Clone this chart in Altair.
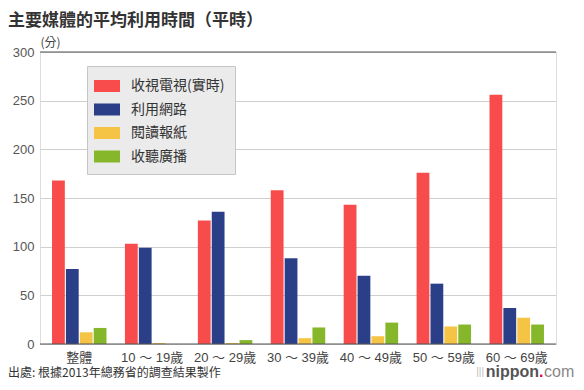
import altair as alt
import pandas as pd

groups = ["整體", "10 ～ 19歲", "20 ～ 29歲", "30 ～ 39歲", "40 ～ 49歲", "50 ～ 59歲", "60 ～ 69歲"]
series = ["收視電視(實時)", "利用網路", "閱讀報紙", "收聽廣播"]
colors = ["#f84b4b", "#2b3f88", "#f6c444", "#86b72b"]

tv = [168, 103, 127, 158, 143, 176, 256]
net = [77, 99, 136, 88, 70, 62, 37]
paper = [12, 1, 1, 6, 8, 18, 27]
radio = [16.5, 0, 4, 17, 22, 20, 20]

y_ticks = [0, 50, 100, 150, 200, 250, 300]

title_text = "主要媒體的平均利用時間（平時）"
source_text = "出處: 根據2013年總務省的調查結果製作"

FONT = "Liberation Sans, Noto Sans CJK TC, sans-serif"
CJK = "Noto Sans CJK TC, sans-serif"

rows = []
for vals, s in zip([tv, net, paper, radio], series):
    for g, v in zip(groups, vals):
        rows.append({"group": g, "series": s, "value": v})
df = pd.DataFrame(rows)

bars = alt.Chart(df).mark_bar().encode(
    x=alt.X("group:N", sort=groups,
            scale=alt.Scale(paddingInner=0.253, paddingOuter=0.165),
            axis=alt.Axis(title=None, labelAngle=0, labelFontSize=13, labelColor="#444",
                          labelFont=FONT, ticks=False, domain=False, labelPadding=7)),
    xOffset=alt.XOffset("series:N", sort=series,
                        scale=alt.Scale(paddingInner=0.08, paddingOuter=0)),
    y=alt.Y("value:Q", scale=alt.Scale(domain=[0, 300], nice=False),
            axis=alt.Axis(values=y_ticks, title="(分)", titleAngle=0, titleX=0, titleY=-3,
                          titleAlign="left", titleBaseline="bottom", titleFontSize=12,
                          titleFontWeight="normal", titleColor="#444", titleFont=CJK,
                          labelFontSize=13, labelColor="#555", labelFont=FONT,
                          labelPadding=6, ticks=False, domain=False,
                          grid=True, gridColor="#cfcfcf", gridWidth=1)),
    color=alt.Color("series:N", sort=series,
                    scale=alt.Scale(domain=series, range=colors),
                    legend=alt.Legend(title=None, orient="none", legendX=47, legendY=14,
                                      fillColor="#ebebeb", strokeColor="#c6c6c6",
                                      padding=10, rowPadding=6.5,
                                      symbolType="M-1.3,-0.6H1.3V0.6H-1.3Z", symbolSize=400,
                                      symbolStrokeWidth=0, labelOffset=14,
                                      labelFontSize=14, labelColor="#333", labelFont=CJK)),
)

rules = alt.Chart(pd.DataFrame({"v": [0, 300]})).mark_rule(color="#555", strokeWidth=1.2).encode(
    y=alt.Y("v:Q")
)

title = alt.Chart(pd.DataFrame({"t": [title_text]})).mark_text(
    align="left", baseline="middle", fontSize=17, fontWeight="bold", color="#333", font=CJK
).encode(x=alt.value(-32), y=alt.value(-31), text="t:N")

source = alt.Chart(pd.DataFrame({"t": [source_text]})).mark_text(
    align="left", baseline="middle", fontSize=12, color="#333", font=CJK
).encode(x=alt.value(-32), y=alt.value(321), text="t:N")

logo_icon = alt.Chart(pd.DataFrame({"t": ["|||"]})).mark_text(
    align="right", baseline="middle", fontSize=10, color="#bbb", font="Liberation Sans"
).encode(x=alt.value(444), y=alt.value(320), text="t:N")

logo_main = alt.Chart(pd.DataFrame({"t": ["nippon"]})).mark_text(
    align="right", baseline="middle", fontSize=16, fontWeight="bold", color="#555",
    font="Liberation Sans"
).encode(x=alt.value(499), y=alt.value(320), text="t:N")

logo_dot = alt.Chart(pd.DataFrame({"t": ["."]})).mark_text(
    align="left", baseline="middle", fontSize=16, fontWeight="bold", color="#e6003e",
    font="Liberation Sans"
).encode(x=alt.value(499), y=alt.value(320), text="t:N")

logo_com = alt.Chart(pd.DataFrame({"t": ["com"]})).mark_text(
    align="left", baseline="middle", fontSize=16, color="#888", font="Liberation Sans"
).encode(x=alt.value(504), y=alt.value(320), text="t:N")

chart = alt.layer(bars, rules, title, source, logo_icon, logo_main, logo_dot, logo_com).properties(
    width=516, height=292,
    autosize=alt.AutoSizeParams(type="none"),
    padding={"left": 32, "top": 44, "right": 20, "bottom": 38},
).configure_view(stroke=None).configure(background="white")

chart.save("out.html", embed_options={"renderer": "svg", "actions": False})
